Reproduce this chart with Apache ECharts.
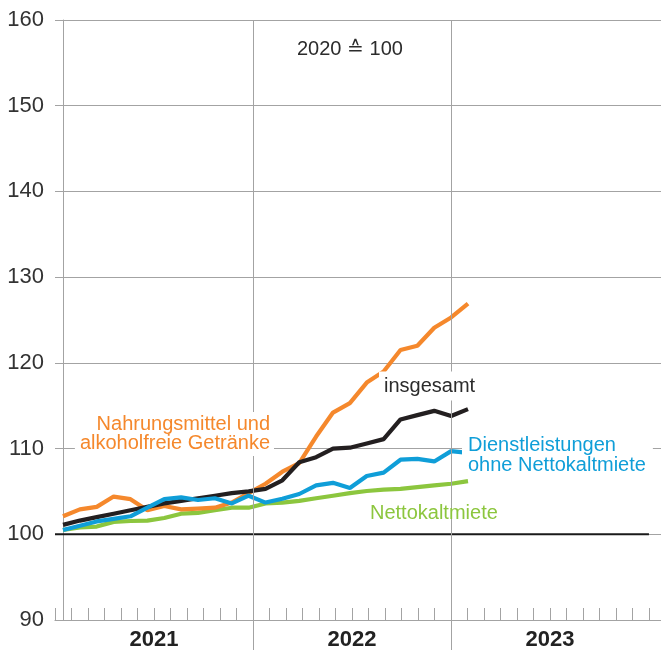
<!DOCTYPE html>
<html>
<head>
<meta charset="utf-8">
<script src="https://cdn.jsdelivr.net/npm/echarts@6/dist/echarts.min.js"></script>
<style>
html,body{margin:0;padding:0;background:#fff;}
#chart{width:661px;height:655px;}
</style>
</head>
<body>
<div id="chart"></div>
<script>
// Monthly observations, Jan 2021 .. Jan 2023 (index 2020 = 100)
const months = ['2021-01','2021-02','2021-03','2021-04','2021-05','2021-06','2021-07','2021-08','2021-09','2021-10','2021-11','2021-12',
                '2022-01','2022-02','2022-03','2022-04','2022-05','2022-06','2022-07','2022-08','2022-09','2022-10','2022-11','2022-12',
                '2023-01'];
const insgesamt = [101.1,101.6,102.0,102.4,102.8,103.2,103.6,103.9,104.2,104.5,104.8,105.0,
                   105.3,106.3,108.4,109.0,110.0,110.1,110.6,111.1,113.4,113.9,114.4,113.8,114.6];
const nahrung   = [102.1,102.9,103.2,104.4,104.1,102.8,103.3,102.9,103.0,103.1,103.7,104.8,
                   105.9,107.3,108.3,111.4,114.2,115.3,117.7,119.0,121.5,122.0,124.1,125.3,126.9];
const dienst    = [100.5,101.0,101.5,101.8,102.1,103.1,104.1,104.3,104.0,104.2,103.6,104.5,
                   103.7,104.15,104.7,105.7,106.0,105.4,106.8,107.2,108.7,108.8,108.5,109.7,109.5];
const miete     = [100.5,100.8,100.9,101.45,101.55,101.6,101.9,102.4,102.5,102.8,103.1,103.1,
                   103.6,103.7,103.9,104.2,104.5,104.8,105.05,105.2,105.3,105.5,105.7,105.9,106.2];
const yearLabels = ['2021','2022','2023'];
const baseValue = 100;

const FONT = '"Liberation Sans", Arial, Helvetica, sans-serif';
const GRID_GRAY = '#a3a3a3';

const toXY = arr => months.map((m, i) => [i, arr[i]]);

const chart = echarts.init(document.getElementById('chart'), null, {renderer: 'canvas'});

const monthAxisMax = 36.73;

chart.setOption({
  animation: false,
  backgroundColor: '#fff',
  grid: {left: 55, right: 0, top: 20, bottom: 35, containLabel: false},
  xAxis: [
    { // data axis (month index), hidden
      type: 'value', min: -0.474, max: 35.437, show: false
    },
    { // month ticks with year labels
      type: 'value', min: 0, max: monthAxisMax, interval: 1, position: 'bottom',
      axisLine: {show: true, lineStyle: {color: GRID_GRAY, width: 1.2}},
      axisTick: {show: true, inside: true, length: 12, lineStyle: {color: GRID_GRAY, width: 1}},
      splitLine: {show: false},
      axisLabel: {
        show: true, margin: 9, fontFamily: FONT, fontSize: 22, fontWeight: 'bold', color: '#222', lineHeight: 22,
        showMinLabel: true, showMaxLabel: false,
        formatter: v => (v % 12 === 6 ? yearLabels[(v - 6) / 12] : '')
      }
    },
    { // year separators extending below the axis
      type: 'value', min: 0, max: monthAxisMax, interval: 12, position: 'bottom',
      axisLine: {show: false},
      axisTick: {show: true, inside: false, length: 30, customValues: [12, 24], lineStyle: {color: GRID_GRAY, width: 1}},
      axisLabel: {show: false},
      splitLine: {show: false}
    }
  ],
  yAxis: {
    type: 'value', min: 90, max: 160, interval: 10,
    axisLine: {show: true, lineStyle: {color: GRID_GRAY, width: 1}},
    axisTick: {show: false},
    axisLabel: {fontFamily: FONT, fontSize: 22, color: '#333', margin: 11},
    splitLine: {show: true, lineStyle: {color: GRID_GRAY, width: 1}}
  },
  series: [
    {
      name: 'base', type: 'line', xAxisIndex: 1, data: [[0, baseValue], [36, baseValue]],
      symbol: 'none', silent: true, z: 1,
      lineStyle: {color: '#1a1a1a', width: 2},
      markLine: {
        silent: true, symbol: 'none', label: {show: false},
        lineStyle: {color: GRID_GRAY, width: 1, type: 'solid'},
        data: [{xAxis: 12}, {xAxis: 24}]
      }
    },
    {name: 'Nettokaltmiete', type: 'line', xAxisIndex: 0, data: toXY(miete), symbol: 'none', z: 3,
     lineStyle: {color: '#8cc63e', width: 4.2}},
    {name: 'Nahrungsmittel', type: 'line', xAxisIndex: 0, data: toXY(nahrung), symbol: 'none', z: 3,
     lineStyle: {color: '#f5882c', width: 4.2}},
    {name: 'insgesamt', type: 'line', xAxisIndex: 0, data: toXY(insgesamt), symbol: 'none', z: 3,
     lineStyle: {color: '#231f20', width: 4.2}},
    {name: 'Dienstleistungen', type: 'line', xAxisIndex: 0, data: toXY(dienst), symbol: 'none', z: 3,
     lineStyle: {color: '#0f9ed8', width: 4.2}}
  ],
  graphic: [
    {type: 'text', z: 100, x: 297, y: 49,
     style: {text: '2020 \u2259 100', font: '20px ' + FONT, fill: '#2b2b2b', verticalAlign: 'middle', align: 'left'}},
    {type: 'text', z: 100, x: 274, y: 434,
     style: {text: 'Nahrungsmittel und\nalkoholfreie Getränke', font: '20px ' + FONT, fill: '#f5882c',
             align: 'right', verticalAlign: 'middle', lineHeight: 19.5,
             backgroundColor: '#fff', padding: [2, 4, 3, 5]}},
    {type: 'text', z: 100, x: 379, y: 386,
     style: {text: 'insgesamt', font: '20px ' + FONT, fill: '#2b2b2b',
             align: 'left', verticalAlign: 'middle', lineHeight: 20,
             backgroundColor: '#fff', padding: [6, 4, 3, 5]}},
    {type: 'text', z: 100, x: 462, y: 455,
     style: {text: 'Dienstleistungen\nohne Nettokaltmiete', font: '20px ' + FONT, fill: '#0f9ed8',
             align: 'left', verticalAlign: 'middle', lineHeight: 20,
             backgroundColor: '#fff', padding: [4, 7, 1, 6]}},
    {type: 'text', z: 100, x: 370, y: 513,
     style: {text: 'Nettokaltmiete', font: '20px ' + FONT, fill: '#8cc63e',
             align: 'left', verticalAlign: 'middle'}}
  ]
});
</script>
</body>
</html>
